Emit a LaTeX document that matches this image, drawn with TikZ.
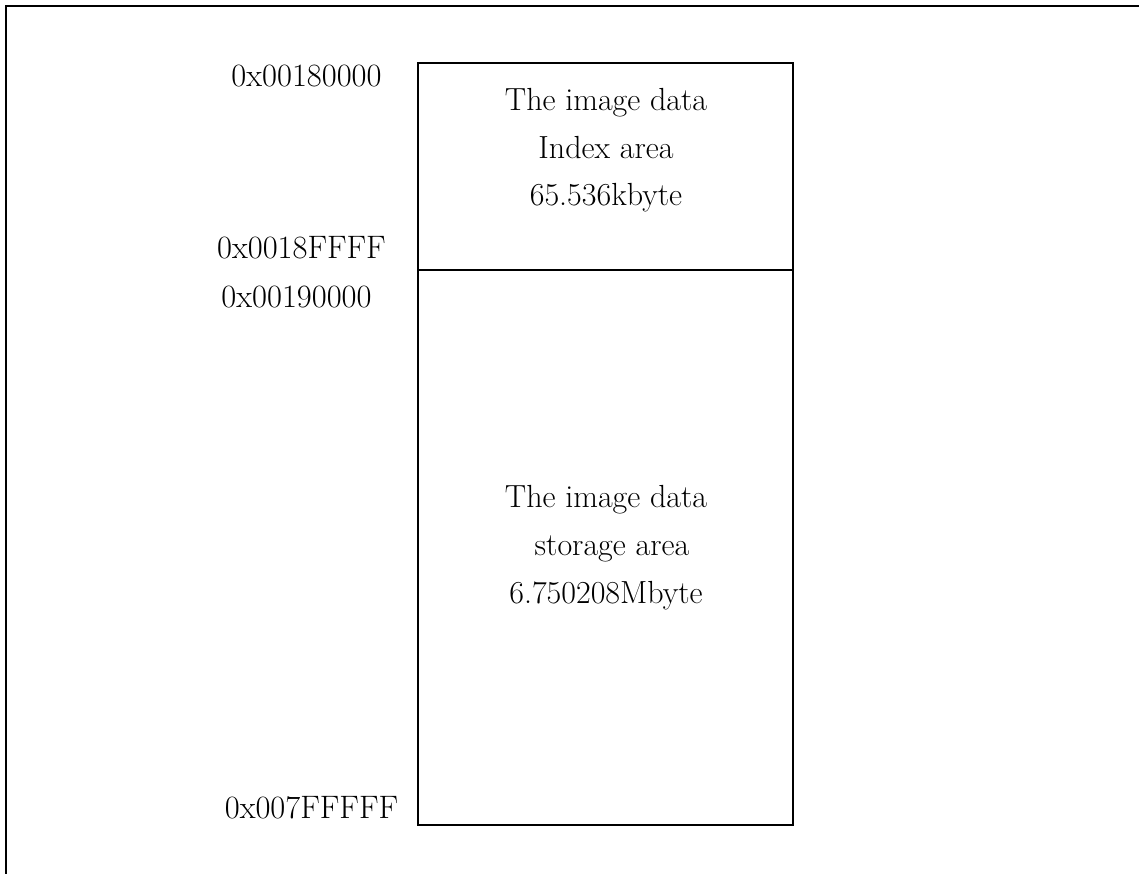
\documentclass[tikz,border=0pt]{standalone}
\begin{document}
\begin{tikzpicture}[x=1pt, y=-1pt,
  frameline/.style={line width=2.4pt, line cap=rect},
  area/.style={draw, line width=1.8pt, inner sep=0pt, outer sep=0pt,
    minimum width=375pt, anchor=north west},
  addr/.style={anchor=base, inner sep=0pt,
    font=\fontsize{32.5}{40}\selectfont},
  areatext/.style={anchor=base, inner sep=0pt,
    font=\fontsize{32}{40}\selectfont}]
  \useasboundingbox (0,0) rectangle (1139,873);

  % page frame (top and left edges only)
  \coordinate (fb) at (6,873);
  \coordinate (fc) at (6,6);
  \coordinate (fr) at (1139,6);
  \draw[frameline] (fb) -- (fc) -- (fr);

  % memory areas
  \node[area, minimum height=207pt] (index) at (418,63) {};
  \node[area, minimum height=555pt] (store) at (418,270) {};

  % index area text
  \node[areatext] (i1) at (606,110) {The image data};
  \node[areatext] (i2) at (606,158) {Index area};
  \node[areatext] (i3) at (606,205) {65.536kbyte};

  % storage area text
  \node[areatext] (s1) at (606,507) {The image data};
  \node[areatext] (s2) at (612,555) {storage area};
  \node[areatext] (s3) at (606,603) {6.750208Mbyte};

  % addresses
  \node[addr] (a1) at (306.5,86) {0x00180000};
  \node[addr] (a2) at (301.5,258) {0x0018FFFF};
  \node[addr] (a3) at (296.5,307) {0x00190000};
  \node[addr] (a4) at (311.5,818) {0x007FFFFF};
\end{tikzpicture}
\end{document}
